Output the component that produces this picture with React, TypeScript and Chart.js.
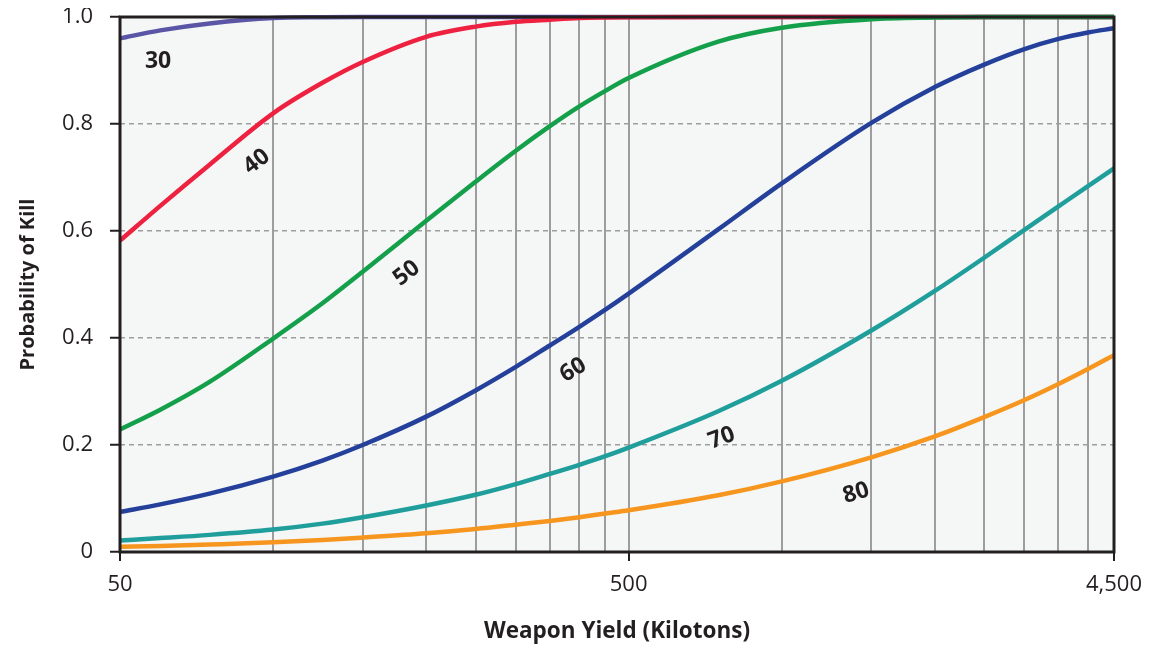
import React, { useEffect, useRef } from 'react';
import { Chart, registerables } from 'chart.js';

Chart.register(...registerables);

// Weapon yield (kilotons) sample points
const yields = [50, 60, 75, 100, 125, 150, 200, 250, 300, 350, 400, 450, 500, 750, 1000, 1500, 2000, 2500, 3000, 3500, 4000, 4500];

// Probability of kill for each hardness curve
const pk30 = [0.96, 0.975, 0.988, 0.998, 0.9995, 1.0, 1.0, 1.0, 1.0, 1.0, 1.0, 1.0, 1.0, 1.0, 1.0, 1.0, 1.0, 1.0, 1.0, 1.0, 1.0, 1.0];
const pk40 = [0.582, 0.647, 0.724, 0.82, 0.877, 0.916, 0.963, 0.982, 0.991, 0.995, 0.998, 0.999, 0.9995, 1.0, 1.0, 1.0, 1.0, 1.0, 1.0, 1.0, 1.0, 1.0];
const pk50 = [0.229, 0.266, 0.318, 0.399, 0.465, 0.524, 0.619, 0.692, 0.75, 0.796, 0.833, 0.862, 0.886, 0.954, 0.98, 0.996, 0.999, 1.0, 1.0, 1.0, 1.0, 1.0];
const pk60 = [0.075, 0.089, 0.109, 0.141, 0.171, 0.2, 0.253, 0.302, 0.346, 0.386, 0.421, 0.453, 0.483, 0.603, 0.689, 0.802, 0.869, 0.911, 0.94, 0.959, 0.971, 0.979];
const pk70 = [0.0215, 0.026, 0.032, 0.042, 0.053, 0.065, 0.087, 0.107, 0.127, 0.146, 0.163, 0.179, 0.195, 0.263, 0.32, 0.414, 0.488, 0.55, 0.602, 0.646, 0.684, 0.717];
const pk80 = [0.0096, 0.0113, 0.014, 0.018, 0.0224, 0.027, 0.035, 0.043, 0.051, 0.058, 0.065, 0.072, 0.078, 0.106, 0.132, 0.177, 0.216, 0.252, 0.284, 0.314, 0.342, 0.368];

const seriesNames = ['30', '40', '50', '60', '70', '80'];
const seriesValues = [pk30, pk40, pk50, pk60, pk70, pk80];
const seriesColors = ['#5b55a5', '#ee2140', '#14a04a', '#24409a', '#1f9e9b', '#f7961f'];

// Axis ticks
const xGridValues = [50, 100, 150, 200, 250, 300, 350, 400, 450, 500, 1000, 1500, 2000, 2500, 3000, 3500, 4000, 4500];
const xLabelValues = [50, 500, 4500];
const xLabelTexts = ['50', '500', '4,500'];
const yTickValues = [0, 0.2, 0.4, 0.6, 0.8, 1.0];
const yTickLabels = ['0', '0.2', '0.4', '0.6', '0.8', '1.0'];

// Curve label anchors (data space) and rotation
const curveLabelYield = [59.4, 92.8, 183, 389, 762, 1400];
const curveLabelPk = [0.916, 0.7295, 0.521, 0.34, 0.213, 0.11];
const curveLabelAngle = [0, -38, -38, -31, -20, -17];

const INK = '#231f20';
const GRID = '#9d9d9d';
const FONT = '"Open Sans", "Noto Sans", sans-serif';

export default function App() {
  const canvasRef = useRef<HTMLCanvasElement | null>(null);

  useEffect(() => {
    const canvas = canvasRef.current;
    if (!canvas) return;

    const bgPlugin = {
      id: 'plotBg',
      beforeDraw(chart: any) {
        const { ctx, chartArea } = chart;
        ctx.save();
        ctx.fillStyle = '#f4f7f6';
        ctx.fillRect(chartArea.left, chartArea.top, chartArea.right - chartArea.left, chartArea.bottom - chartArea.top);
        ctx.restore();
      },
    };

    const framePlugin = {
      id: 'frameAndLabels',
      afterDatasetsDraw(chart: any) {
        const { ctx, chartArea } = chart;
        ctx.save();
        ctx.strokeStyle = INK;
        ctx.lineWidth = 3;
        ctx.strokeRect(chartArea.left, chartArea.top, chartArea.right - chartArea.left, chartArea.bottom - chartArea.top);
        const xs = chart.scales.x;
        const ys = chart.scales.y;
        ctx.fillStyle = INK;
        ctx.font = `bold 23px ${FONT}`;
        ctx.textAlign = 'center';
        ctx.textBaseline = 'middle';
        for (let i = 0; i < seriesNames.length; i++) {
          const px = xs.getPixelForValue(curveLabelYield[i]);
          const py = ys.getPixelForValue(curveLabelPk[i]);
          ctx.save();
          ctx.translate(px, py);
          ctx.rotate((curveLabelAngle[i] * Math.PI) / 180);
          ctx.fillText(seriesNames[i], 0, 0);
          ctx.restore();
        }
        ctx.restore();
      },
    };

    const datasets = seriesNames.map((name, i) => ({
      label: name,
      data: yields.map((x, j) => ({ x, y: seriesValues[i][j] })),
      borderColor: seriesColors[i],
      backgroundColor: seriesColors[i],
      borderWidth: 4.5,
      pointRadius: 0,
      pointHoverRadius: 0,
      cubicInterpolationMode: 'monotone' as const,
      fill: false,
      clip: 4,
      order: seriesNames.length - i,
    }));

    const isLabeled = (v: number) => xLabelValues.indexOf(v) >= 0;

    const chart = new Chart(canvas, {
      type: 'line',
      data: { datasets },
      plugins: [bgPlugin, framePlugin],
      options: {
        animation: false,
        responsive: true,
        maintainAspectRatio: false,
        layout: { padding: { top: 9, right: 31, left: 0, bottom: 0 } },
        plugins: {
          legend: { display: false },
          tooltip: { enabled: false },
        },
        scales: {
          x: {
            type: 'logarithmic',
            min: 50,
            max: 4500,
            afterBuildTicks: (scale: any) => {
              scale.ticks = xGridValues.map((v) => ({ value: v }));
            },
            afterFit: (scale: any) => {
              scale.height = 96;
              scale.paddingLeft = 0;
              scale.paddingRight = 0;
            },
            ticks: {
              autoSkip: false,
              maxRotation: 0,
              padding: 11,
              color: INK,
              font: { family: FONT, size: 22 },
              callback: (value: any) => {
                const k = xLabelValues.indexOf(Number(value));
                return k >= 0 ? xLabelTexts[k] : '';
              },
            },
            grid: {
              color: (ctx: any) => (ctx.tick && (ctx.tick.value === 50 || ctx.tick.value === 4500) ? 'rgba(0,0,0,0)' : GRID),
              lineWidth: 2,
              tickLength: 9,
              tickWidth: 2,
              tickColor: (ctx: any) => (ctx.tick && isLabeled(ctx.tick.value) ? INK : 'rgba(0,0,0,0)'),
            },
            border: { display: false },
            title: {
              display: true,
              text: 'Weapon Yield (Kilotons)',
              color: INK,
              font: { family: FONT, size: 22.5, weight: 'bold' },
              padding: { top: 0, bottom: 2.5 },
            },
          },
          y: {
            type: 'linear',
            min: 0,
            max: 1,
            afterBuildTicks: (scale: any) => {
              scale.ticks = yTickValues.map((v) => ({ value: v }));
            },
            afterFit: (scale: any) => {
              scale.width = 112;
              scale.paddingTop = 0;
              scale.paddingBottom = 0;
            },
            ticks: {
              padding: 17,
              color: INK,
              font: { family: FONT, size: 22 },
              callback: (_v: any, i: number) => yTickLabels[i],
            },
            grid: {
              color: (ctx: any) => (ctx.tick && (ctx.tick.value === 0 || ctx.tick.value === 1) ? 'rgba(0,0,0,0)' : GRID),
              lineWidth: 1.5,
              tickLength: 10,
              tickWidth: 2,
              tickColor: INK,
              tickBorderDash: [],
            },
            border: { display: false, dash: [5, 4] },
            title: {
              display: true,
              text: 'Probability of Kill',
              color: INK,
              font: { family: FONT, size: 20, weight: 'bold' },
              padding: { top: 8, bottom: 0 },
            },
          },
        },
      } as any,
    });

    return () => {
      chart.destroy();
    };
  }, []);

  return (
    <div style={{ width: 1137, height: 640, position: 'relative' }}>
      <canvas ref={canvasRef} />
    </div>
  );
}
